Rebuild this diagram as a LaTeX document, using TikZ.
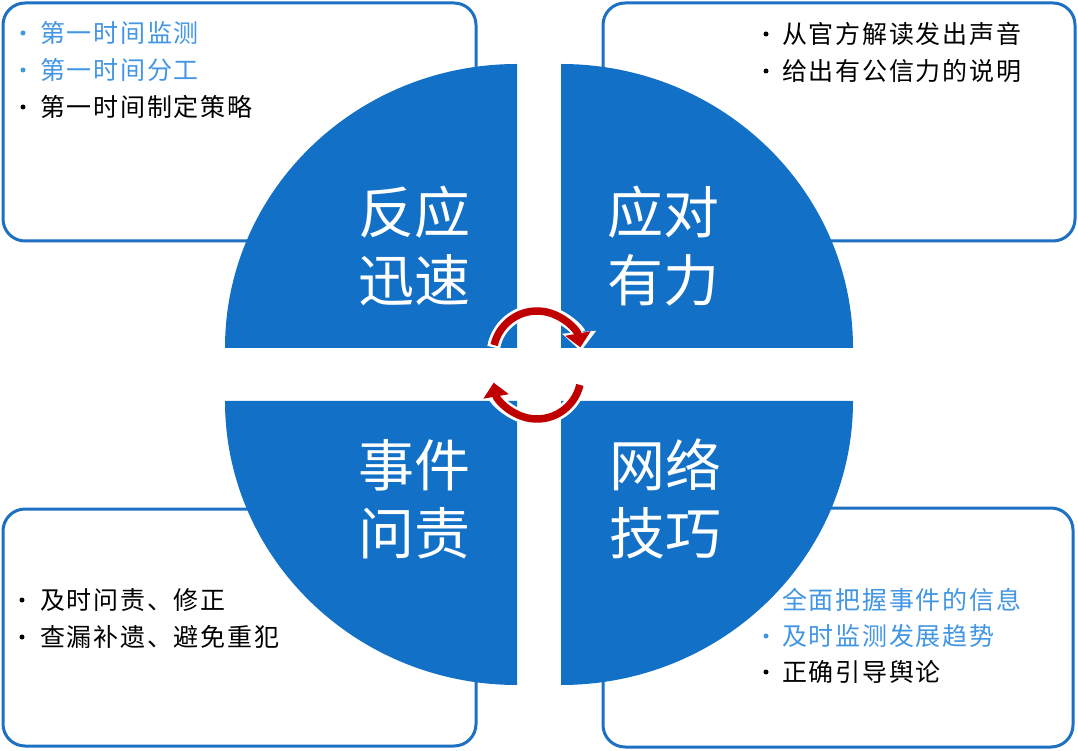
\documentclass[tikz,border=0pt]{standalone}
\usepackage{fontspec}
\setmainfont{Noto Sans CJK SC}
\newfontfamily\cjktext[LetterSpace=7]{Noto Sans CJK SC}
\usetikzlibrary{arrows.meta,calc}
\definecolor{qblue}{RGB}{18,112,198}
\definecolor{bblue}{RGB}{30,112,195}
\definecolor{tblue}{RGB}{66,150,228}
\definecolor{ared}{RGB}{192,0,0}
\begin{document}
\begin{tikzpicture}[x=1pt,y=1pt,
  panel/.style={draw=bblue, line width=3pt, rounded corners=22pt, fill=white},
  quad/.style={fill=qblue, draw=none},
  qlabel/.style={text=white, font=\fontsize{56}{68}\selectfont, align=center, inner sep=0pt},
  item/.style={anchor=west, inner sep=0pt, font=\cjktext\fontsize{25}{28}\selectfont},
  blueitem/.style={item, text=tblue},
  dotb/.style={circle, inner sep=0pt, minimum size=5pt, fill=tblue},
  dotk/.style={circle, inner sep=0pt, minimum size=5pt, fill=black},
  ringw/.style={white, line width=13pt},
  ringr/.style={ared, line width=7.5pt},
]
\useasboundingbox (0,0) rectangle (1078,750);
\fill[white] (0,0) rectangle (1078,750);

% panels
\draw[panel] (3,509) rectangle (476,747);
\draw[panel] (603,509) rectangle (1075,747);
\draw[panel] (3,4) rectangle (476,241);
\draw[panel] (603,3) rectangle (1073,242);

% top-left items
\node[dotb] (tl1b) at (23,717) {};
\node[blueitem] (tl1) at (40,717) {第一时间监测};
\node[dotb] (tl2b) at (23,680) {};
\node[blueitem] (tl2) at (40,680) {第一时间分工};
\node[dotk] (tl3b) at (23,643) {};
\node[item] (tl3) at (40,643) {第一时间制定策略};

% top-right items
\node[dotk] (tr1b) at (766,716) {};
\node[item] (tr1) at (782,716) {从官方解读发出声音};
\node[dotk] (tr2b) at (766,679) {};
\node[item] (tr2) at (782,679) {给出有公信力的说明};

% bottom-left items
\node[dotk] (bl1b) at (22,150) {};
\node[item] (bl1) at (40,150) {及时问责、修正};
\node[dotk] (bl2b) at (22,113) {};
\node[item] (bl2) at (40,113) {查漏补遗、避免重犯};

% bottom-right items
\node[dotb] (br1b) at (766,150) {};
\node[blueitem] (br1) at (782,150) {全面把握事件的信息};
\node[dotb] (br2b) at (766,114) {};
\node[blueitem] (br2) at (782,114) {及时监测发展趋势};
\node[dotk] (br3b) at (766,78) {};
\node[item] (br3) at (782,78) {正确引导舆论};

% quadrants
\fill[quad] (517,402) -- (225,402) arc (180:90:292 and 284) -- cycle;
\fill[quad] (561,402) -- (561,686) arc (90:0:292 and 284) -- cycle;
\fill[quad] (517,349) -- (517,65) arc (270:180:292 and 284) -- cycle;
\fill[quad] (561,349) -- (853,349) arc (0:-90:292 and 284) -- cycle;

% quadrant labels
\node[qlabel] (q1) at (414,504) {反应\\迅速};
\node[qlabel] (q2) at (663,504) {应对\\有力};
\node[qlabel] (q3) at (414,251) {事件\\问责};
\node[qlabel] (q4) at (665,251) {网络\\技巧};

% circular arrows
\coordinate (ct) at (537,395);
\coordinate (cb) at (537,375);
\draw[ringw, -{Triangle[length=19pt,width=33pt]}] ($(ct)+(170:44)$) arc (170:5:44);
\draw[ringr, -{Triangle[length=14pt,width=25pt]}] ($(ct)+(167:44)$) arc (167:10:44);
\draw[ringw, -{Triangle[length=19pt,width=33pt]}] ($(cb)+(-10:44)$) arc (-10:-175:44);
\draw[ringr, -{Triangle[length=14pt,width=25pt]}] ($(cb)+(-13:44)$) arc (-13:-170:44);
\end{tikzpicture}
\end{document}
